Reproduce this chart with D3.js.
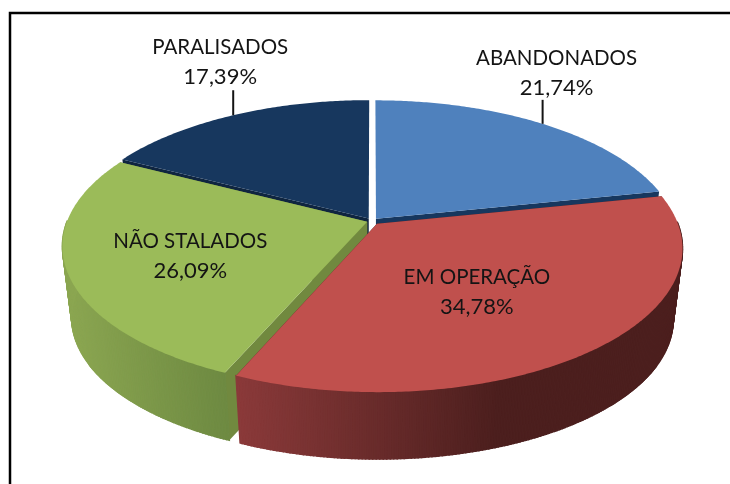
<!DOCTYPE html>
<html lang="pt">

<head>
    <meta charset="UTF-8">
    <script src="https://d3js.org/d3.v7.min.js"></script>
    <title>Situação</title>
    <style>
        body { margin: 0; background: #fff; }
        svg { display: block; filter: blur(0.35px); }
        text { font-family: Lato, "Open Sans", sans-serif; fill: #141414; text-anchor: middle; }
    </style>
</head>

<body>
    <svg id="grafico" width="730" height="484"></svg>
    <script>
        // Data, clockwise from 12 o'clock
        const categories = ["ABANDONADOS", "EM OPERAÇÃO", "NÃO STALADOS", "PARALISADOS"];
        const values = [21.74, 34.78, 26.09, 17.39];
        const valueLabels = ["21,74%", "34,78%", "26,09%", "17,39%"];
        const topColors = ["#4f81bd", "#c0504d", "#9bbb59", "#17375e"];
        const cutColors = ["#17375e", "#4c1f1e", "#71893f", "#0f2540"];
        const wallLeft = ["#2a4a74", "#8b3a3a", "#8ba651", "#0f2540"];
        const wallRight = ["#2a4a74", "#4c1f1e", "#6e8a42", "#0f2540"];
        // outside labels get a leader line, the other two sit on the slice
        const labelDx = [14, -2, -1, -13];
        const labelDy = [-24, 32, 27, -25];
        const labelRadius = [1, 0.5, 0.6, 1];
        const labelLift = [5, 0, 0, 6];
        const explodes = [0.021, 0.026, 0.017, 0.021];

        const svg = d3.select("#grafico");

        // chart frame, runs off the right and bottom of the picture
        svg.append("path")
            .attr("d", "M10,484V13H730")
            .attr("fill", "none")
            .attr("stroke", "#000")
            .attr("stroke-width", 2.5);

        // Perspective disk: v > 0 comes toward the viewer
        const k = 0.168, depth = 72, shrink = 0.97, cx = 372, cy = 221;
        const x = d3.scaleLinear().domain([-1, 1]).range([cx - 300, cx + 300]);
        const y = d3.scaleLinear().domain([-1, 1]).range([cy - 139, cy + 139]);

        function project(u, v) {
            const f = 1 / (1 - k * v);
            return [x(u * f), y(v * f)];
        }
        function lower(p) {
            return [cx + (p[0] - cx) * shrink, cy + (p[1] - cy) * shrink + depth];
        }

        const pie = d3.pie().sort(null).startAngle(0).endAngle(2 * Math.PI);
        const slices = pie(values).map(function (d, i) {
            const mid = (d.startAngle + d.endAngle) / 2;
            const ou = Math.sin(mid) * explodes[i], ov = -Math.cos(mid) * explodes[i];
            const at = function (a, r) {
                return project(ou + r * Math.sin(a), ov - r * Math.cos(a));
            };
            const angles = d3.range(d.startAngle, d.endAngle, 0.01).concat([d.endAngle]);
            return { i: i, mid: mid, at: at, angles: angles, rim: angles.map(function (a) { return at(a, 1); }), apex: at(0, 0) };
        });

        const line = d3.line();
        const outline = function (pts) { return line(pts) + "Z"; };

        // back slices first, red goes on top of everything
        [3, 0, 2, 1].forEach(function (n) {
            const s = slices[n];
            const g = svg.append("g");
            const first = s.rim[0], last = s.rim[s.rim.length - 1];

            // cut faces, the ones at 12 o'clock look away and would show in the gap
            g.selectAll("path.cut")
                .data([first, last].filter(function (p) { return Math.abs(p[0] - s.apex[0]) > 10; }))
                .enter().append("path")
                .attr("class", "cut")
                .attr("d", function (p) { return outline([s.apex, p, lower(p), lower(s.apex)]); })
                .attr("fill", cutColors[n]);

            // outer wall, in strips so the colour can shift with x. Only the front of the rim
            const wallColor = d3.scaleLinear()
                .domain(n === 2 ? [65, 225] : [235, 500])
                .range([wallLeft[n], wallRight[n]])
                .clamp(true);
            g.selectAll("path.wall")
                .data(d3.pairs(s.rim).filter(function (d) { return d[0][1] > cy; }))
                .enter().append("path")
                .attr("class", "wall")
                .attr("d", function (d) { return outline([d[0], d[1], lower(d[1]), lower(d[0])]); })
                .attr("fill", function (d) { return wallColor(d[0][0]); })
                .attr("stroke", function (d) { return wallColor(d[0][0]); })
                .attr("stroke-width", 1.5);

            // top of the slice
            g.append("path")
                .attr("d", outline([s.apex].concat(s.rim)))
                .attr("fill", topColors[n]);
        });

        // Labels
        slices.forEach(function (s) {
            const n = s.i;
            const p = s.at(s.mid, labelRadius[n]);
            if (labelRadius[n] === 1) {
                svg.append("line")
                    .attr("x1", p[0]).attr("x2", p[0])
                    .attr("y1", p[1]).attr("y2", p[1] + labelDy[n])
                    .attr("stroke", "#141414")
                    .attr("stroke-width", 2);
            }
            const tx = p[0] + labelDx[n];
            const by = p[1] + labelDy[n] - labelLift[n];
            const label = svg.append("text").attr("x", tx).attr("y", by);
            label.append("tspan").attr("x", tx).attr("dy", "-30").style("font-size", "20.5px").text(categories[n]);
            label.append("tspan").attr("x", tx).attr("dy", "30").style("font-size", "22px").text(valueLabels[n]);
        });
    </script>
</body>

</html>
